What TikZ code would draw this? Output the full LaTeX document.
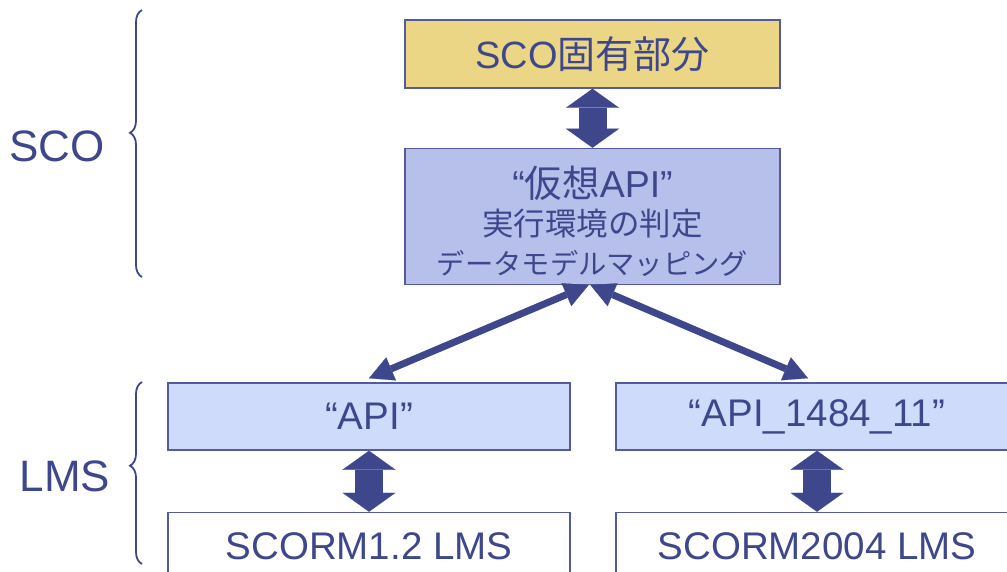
\documentclass[tikz,border=0pt]{standalone}
\usepackage{fontspec}
\setmainfont{Liberation Sans}
\newfontfamily\jp{Noto Sans CJK JP}
\usetikzlibrary{positioning}
\usetikzlibrary{arrows.meta}
\usetikzlibrary{decorations.pathreplacing}
\definecolor{ink}{RGB}{63,71,140}
\definecolor{edge}{RGB}{84,90,156}
\definecolor{scofill}{RGB}{234,214,132}
\definecolor{vapifill}{RGB}{182,192,234}
\definecolor{apifill}{RGB}{206,219,250}

\begin{document}
\begin{tikzpicture}[x=1pt, y=-1pt,
  box/.style={draw=edge, line width=1.5pt, text=ink, minimum width=375pt, align=center, inner sep=0pt, font=\fontsize{38}{44}\selectfont},
  lmsbox/.style={box, minimum width=402pt, minimum height=67pt, font=\fontsize{38.5}{44}\selectfont},
  fatarrow/.style={draw=ink, line width=28pt, {Triangle[width=53pt,length=19pt,line width=0.1pt]}-{Triangle[width=53pt,length=19pt,line width=0.1pt]}},
  linkarrow/.style={draw=ink, line width=7pt, {Triangle[width=25pt,length=24pt,line width=0.1pt]}-{Triangle[width=25pt,length=24pt,line width=0.1pt]}},
  brace/.style={draw=ink, line width=1.8pt, decorate, decoration={brace, amplitude=12pt, aspect=0.54}},
  lab/.style={text=ink, font=\fontsize{44}{50}\selectfont}
]
\useasboundingbox (0,0) rectangle (1007,572);

\node[box, fill=scofill, minimum height=68pt] (sco) at (592.5,54) {SCO{\jp 固有部分}};
\node[box, fill=vapifill, minimum height=136pt, below=59pt of sco, font=\fontsize{29}{38.5}\selectfont] (vapi)
  {{\fontsize{37.5}{38.5}\selectfont\rule{0pt}{41pt}“{\jp 仮想}API”}\\{\fontsize{31.5}{38.5}\selectfont\jp 実行環境の判定}\\{\fontsize{28.3}{38.5}\selectfont\jp データモデルマッピング}};

\node[lmsbox, fill=apifill, below=97pt of vapi, xshift=-223.5pt] (api) {“API”};
\node[lmsbox, fill=apifill, below=97pt of vapi, xshift=224.5pt] (api2) {“API\_1484\_11”};
\node[lmsbox, fill=white, below=61pt of api] (lms) {SCORM1.2 LMS};
\node[lmsbox, fill=white, below=61pt of api2] (lms2) {SCORM2004 LMS};

\draw[fatarrow] (sco) -- (vapi);
\draw[fatarrow] (api) -- (lms);
\draw[fatarrow] (api2) -- (lms2);
\draw[linkarrow] ([xshift=-4pt]vapi.south) -- ([yshift=4pt]api.north);
\draw[linkarrow] ([xshift=-2pt]vapi.south) -- ([xshift=-9pt,yshift=4pt]api2.north);

% braces
\coordinate (scotop) at (142,10);
\coordinate (scobot) at (142,277);
\coordinate (lmstop) at (142,382);
\coordinate (lmsbot) at (142,564);
\draw[brace] (scobot) -- (scotop);
\draw[brace] (lmsbot) -- (lmstop);
\node[lab] (scolab) at (57,146) {SCO};
\node[lab] (lmslab) at (65,476) {LMS};

\end{tikzpicture}
\end{document}
